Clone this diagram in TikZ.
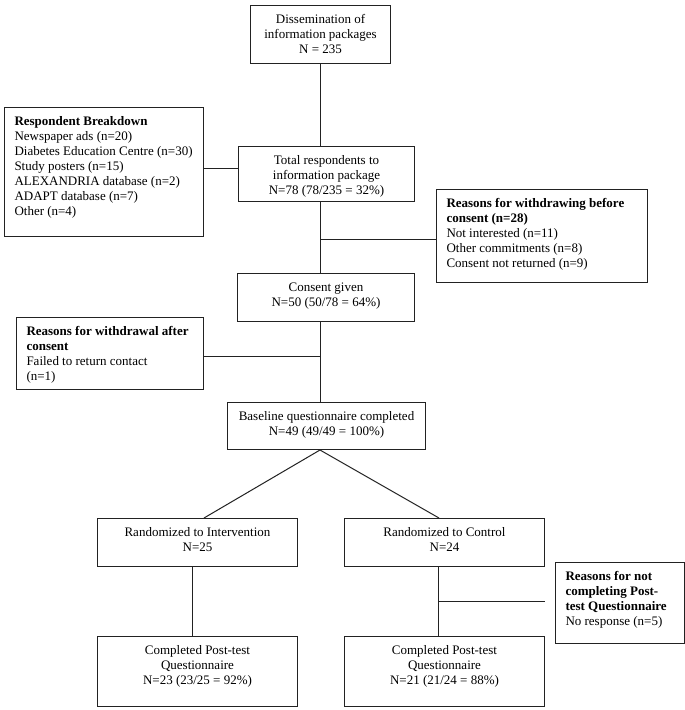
\documentclass[tikz,border=0pt]{standalone}
\usepackage{fontspec}
\setmainfont{Liberation Serif}
\definecolor{linec}{HTML}{222222}
\newcommand\cboxtext[3]{\parbox[t][#2][t]{#1}{\centering\vspace*{7.5pt}\strut#3}}
\newcommand\lboxtext[3]{\parbox[t][#2][t]{#1}{\raggedright\leftskip=10pt\vspace*{7.5pt}\strut#3}}
\tikzset{
  box/.style={draw=linec, line width=1pt, inner sep=0pt, anchor=north west, font=\fontsize{13}{15}\selectfont},
  conn/.style={draw=linec, line width=1pt}
}
\begin{document}
\begin{tikzpicture}[x=1pt,y=-1pt]
\useasboundingbox[fill=white] (0,0) rectangle (685,710);
% boxes
\node[box] (top) at (250,5) {\cboxtext{140pt}{58pt}{Dissemination of\\information packages\\N = 235}};
\node[box] (breakdown) at (4,107) {\lboxtext{199pt}{129pt}{\textbf{Respondent Breakdown}\\Newspaper ads (n=20)\\Diabetes Education Centre (n=30)\\Study posters (n=15)\\ALEXANDRIA database (n=2)\\ADAPT database (n=7)\\Other (n=4)}};
\node[box] (resp) at (238,146) {\cboxtext{176pt}{55pt}{Total respondents to\\information package\\N=78 (78/235 = 32\%)}};
\node[box] (before) at (436,189) {\lboxtext{211pt}{93pt}{\textbf{Reasons for withdrawing before}\\\textbf{consent (n=28)}\\Not interested (n=11)\\Other commitments (n=8)\\Consent not returned (n=9)}};
\node[box] (consent) at (237,273) {\cboxtext{177pt}{48pt}{Consent given\\N=50 (50/78 = 64\%)}};
\node[box] (withdrawal) at (16,317) {\lboxtext{187pt}{72pt}{\textbf{Reasons for withdrawal after}\\\textbf{consent}\\Failed to return contact\\(n=1)}};
\node[box] (baseline) at (227,402) {\cboxtext{198pt}{47pt}{Baseline questionnaire completed\\N=49 (49/49 = 100\%)}};
\node[box] (intv) at (97,518) {\cboxtext{200pt}{48pt}{Randomized to Intervention\\N=25}};
\node[box] (ctrl) at (344,518) {\cboxtext{200pt}{48pt}{Randomized to Control\\N=24}};
\node[box] (notc) at (555,562) {\lboxtext{129pt}{81pt}{\textbf{Reasons for not}\\\textbf{completing Post-}\\\textbf{test Questionnaire}\\No response (n=5)}};
\node[box] (compi) at (97,636) {\cboxtext{200pt}{70pt}{Completed Post-test\\Questionnaire\\N=23 (23/25 = 92\%)}};
\node[box] (compc) at (344,636) {\cboxtext{200pt}{70pt}{Completed Post-test\\Questionnaire\\N=21 (21/24 = 88\%)}};
% helper coordinates
\coordinate (sp) at (320,0);
\coordinate (lv) at (192,0);
\coordinate (rv) at (438,0);
\coordinate (dl) at (204,0);
\coordinate (dr) at (439,0);
\coordinate (y1) at (0,168);
\coordinate (y2) at (0,239);
\coordinate (y3) at (0,356);
\coordinate (y4) at (0,601);
% connectors
\draw[conn] (top.south) -- (top.south |- resp.north);
\draw[conn] (sp |- resp.south) -- (sp |- consent.north);
\draw[conn] (sp |- consent.south) -- (sp |- baseline.north);
\draw[conn] (breakdown.east |- y1) -- (resp.west |- y1);
\draw[conn] (sp |- y2) -- (before.west |- y2);
\draw[conn] (withdrawal.east |- y3) -- (sp |- y3);
\draw[conn] (dl |- intv.north) -- (sp |- baseline.south) -- (dr |- ctrl.north);
\draw[conn] (lv |- intv.south) -- (lv |- compi.north);
\draw[conn] (rv |- ctrl.south) -- (rv |- compc.north);
\draw[conn] (rv |- y4) -- (ctrl.east |- y4);
\end{tikzpicture}
\end{document}
